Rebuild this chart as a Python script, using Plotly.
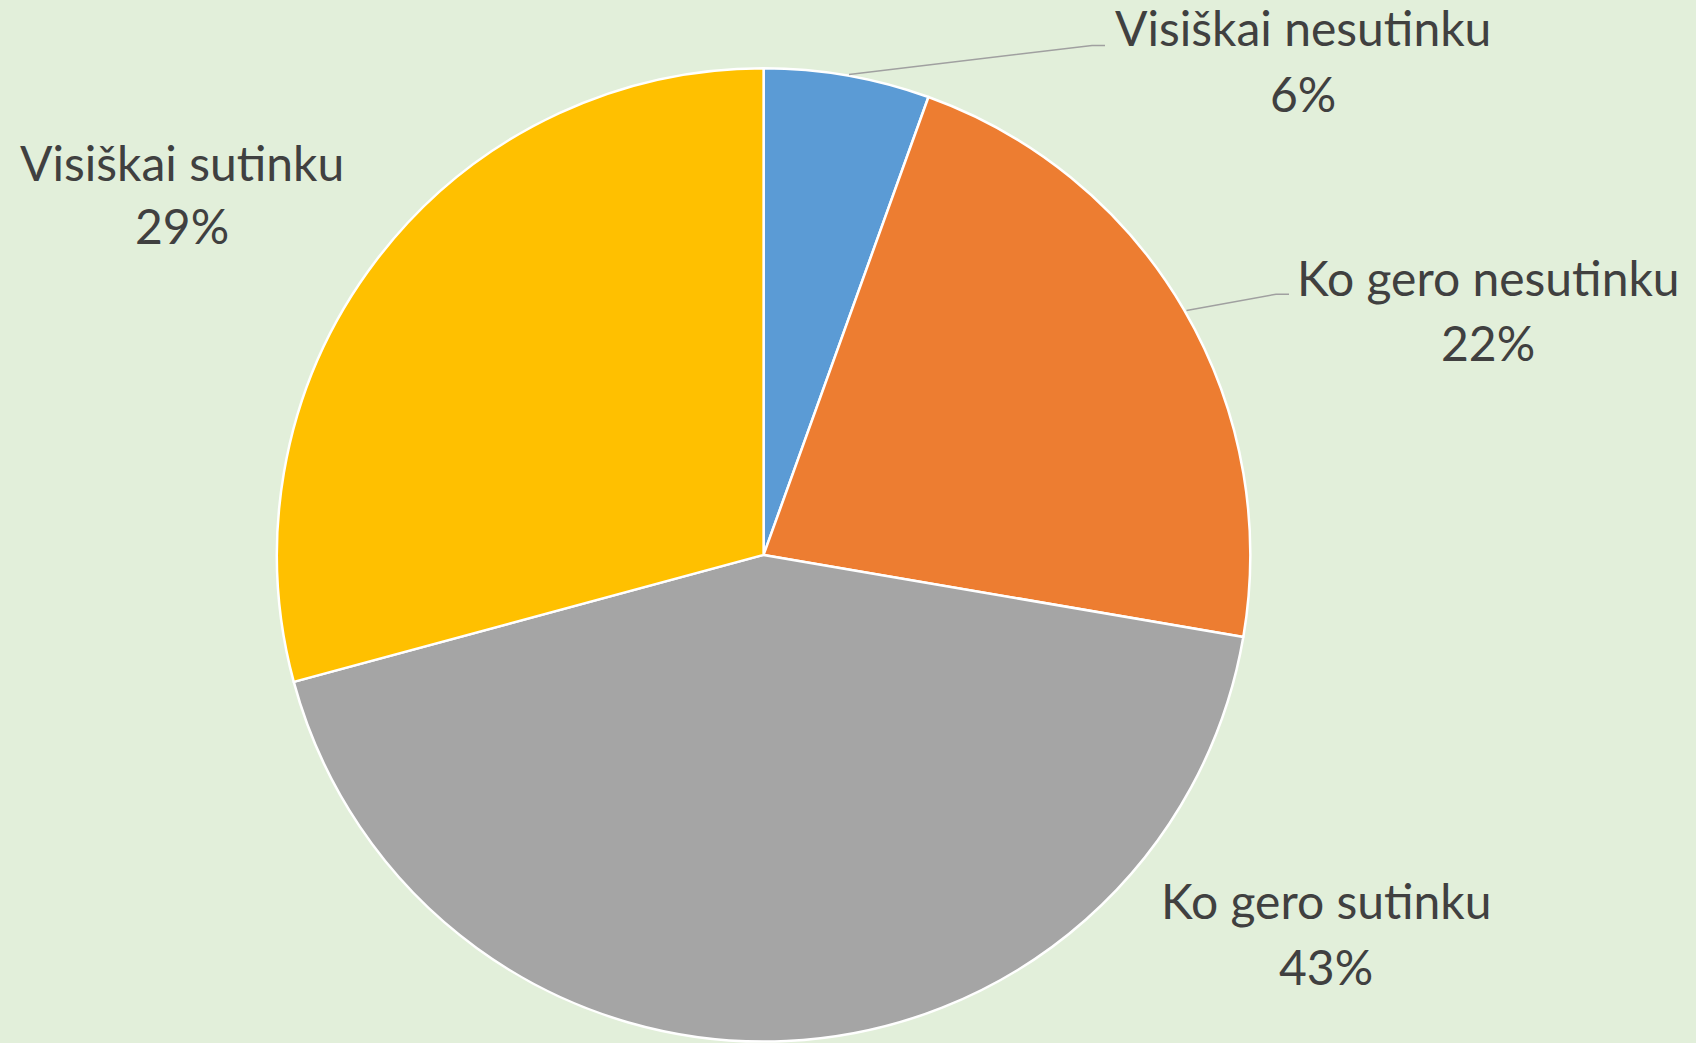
import plotly.graph_objects as go

labels = ["Visiškai nesutinku", "Ko gero nesutinku", "Ko gero sutinku", "Visiškai sutinku"]
values = [5.5, 22.2, 43.1, 29.2]
colors = ["#5B9BD5", "#ED7D31", "#A5A5A5", "#FFC000"]

W, H = 1696, 1043
# label block centres (pixels): x, y of first line, y of second line
label_pos = [(1303, 28, 93), (1488, 277, 342), (1326, 900, 966), (182, 162, 226)]
leaders = [
    [(849, 74.6), (1092, 45.4), (1105, 45.4)],
    [(1186.5, 310.4), (1276, 294.2), (1289, 294.2)],
]

cx, cy, r = 763.6, 554.9, 486.7

fig = go.Figure(go.Pie(
    labels=labels, values=values, sort=False, direction="clockwise", rotation=0,
    marker=dict(colors=colors, line=dict(color="white", width=2.5)),
    textinfo="none", hoverinfo="label+percent", showlegend=False,
    domain=dict(x=[(cx - r) / W, (cx + r) / W], y=[1 - (cy + r) / H, 1 - (cy - r) / H]),
))

total = sum(values)
FONT = "Lato"
for lab, v, (x, y1, y2) in zip(labels, values, label_pos):
    pct = f"{round(v / total * 100)}%"
    for txt, yy in ((lab, y1), (pct, y2)):
        fig.add_annotation(x=x / W, y=1 - yy / H, xref="paper", yref="paper",
                           text=txt, showarrow=False, xanchor="center", yanchor="middle",
                           font=dict(family=FONT, size=48, color="#404040"))

for pts in leaders:
    path = "M " + " L ".join(f"{px / W},{1 - py / H}" for px, py in pts)
    fig.add_shape(type="path", path=path, xref="paper", yref="paper",
                  line=dict(color="#A0A0A0", width=1.5))

fig.update_layout(width=W, height=H, margin=dict(l=0, r=0, t=0, b=0),
                  paper_bgcolor="#E2EFDA", plot_bgcolor="#E2EFDA")
fig.write_html("out.html", config={"displayModeBar": False},
               post_script="document.body.style.margin='0';document.body.style.background='#E2EFDA';")
